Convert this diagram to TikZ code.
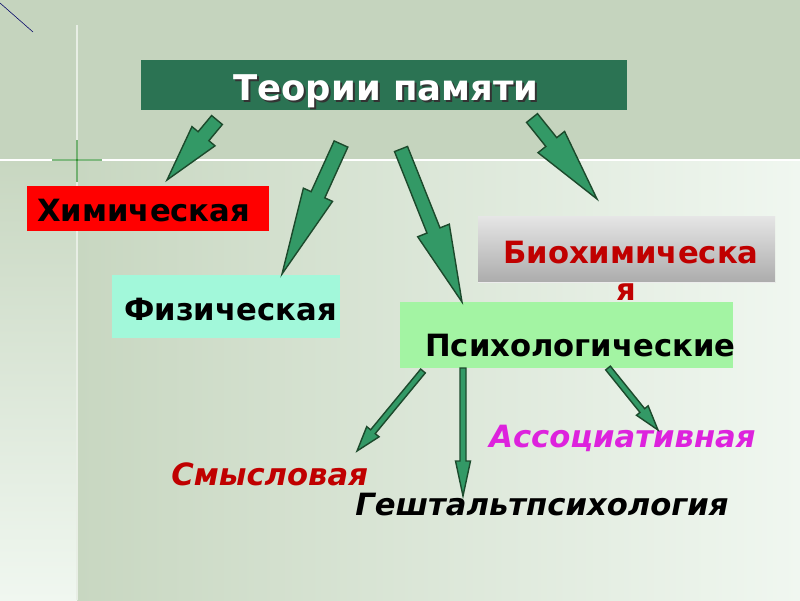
\documentclass[tikz,border=0pt]{standalone}
\usepackage{fontspec}
\setmainfont{DejaVu Sans}
\usetikzlibrary{calc,fit}

\definecolor{bandgreen}{HTML}{C5D4BE}
\definecolor{mainleft}{HTML}{C8D7C1}
\definecolor{mainright}{HTML}{F0F7F0}
\definecolor{titlegreen}{HTML}{2B7353}
\definecolor{arrowgreen}{HTML}{339966}
\definecolor{arrowedge}{HTML}{1C4A2C}
\definecolor{chemred}{HTML}{FF0000}
\definecolor{physaqua}{HTML}{A2F8DA}
\definecolor{psygreen}{HTML}{A3F4A3}
\definecolor{biored}{HTML}{C00000}
\definecolor{assocpink}{HTML}{DD22DD}

% block arrow: start, tip, half shaft, half head, head length (in px)
\newcommand{\fatarrow}[5]{%
  \draw[arrowbody] ($(#1)!{#3*0.7113pt}!90:(#2)$)
    -- ($(#2)!{#5*0.7113pt}!(#1)!{#3*0.7113pt}!-90:(#1)$)
    -- ($(#2)!{#5*0.7113pt}!(#1)!{#4*0.7113pt}!-90:(#1)$)
    -- (#2)
    -- ($(#2)!{#5*0.7113pt}!(#1)!{#4*0.7113pt}!90:(#1)$)
    -- ($(#2)!{#5*0.7113pt}!(#1)!{#3*0.7113pt}!90:(#1)$)
    -- ($(#1)!{#3*0.7113pt}!-90:(#2)$) -- cycle;}

\begin{document}
\begin{tikzpicture}[
  x=0.025cm, y=-0.025cm,
  box/.style={inner sep=0pt, draw=none},
  lbl/.style={inner sep=0pt, anchor=base west, font=\fontsize{21.8}{24}\selectfont\bfseries},
  ilbl/.style={lbl, font=\fontsize{21.8}{24}\selectfont\bfseries\itshape},
  arrowbody/.style={fill=arrowgreen, draw=arrowedge, line width=1pt, line join=miter}
  ]
  \useasboundingbox (0,0) rectangle (800,600);

  % background
  \fill[bandgreen] (0,0) rectangle (800,160);
  \shade[left color=mainleft, right color=mainright] (77,160) rectangle (800,600);
  \shade[top color=mainleft, bottom color=mainright] (0,160) rectangle (77,600);
  \draw[white, line width=1pt] (0,160) -- (800,160);
  \draw[white!60!bandgreen, line width=1pt] (77,25) -- (77,600);
  \draw[green!45!black, opacity=0.5, line width=1.2pt] (52,160) -- (102,160);
  \draw[green!45!black, opacity=0.5, line width=1.2pt] (77,140) -- (77,182);
  \draw[blue!40!black] (0,3) -- (33,32);

  % boxes
  \node[box, fill=titlegreen, fit={(141,60) (627,110)}] (title) {};
  \node[box, fill=chemred, fit={(27,186) (269,231)}] (chem) {};
  \node[box, fill=physaqua, fit={(112,275) (340,338)}] (phys) {};
  \node[box, top color=gray!20, bottom color=gray!65, fit={(478,216) (775,282)}] (biochem) {};
  \draw[white!85!gray, line width=1pt] (biochem.south west) -- (biochem.south east);
  \node[box, fill=psygreen, fit={(400,302) (733,368)}] (psy) {};

  % texts
  \node[lbl, black!80, font=\fontsize{25.2}{28}\selectfont\bfseries] at (235,102) {Теории памяти};
  \node[lbl, white, font=\fontsize{25.2}{28}\selectfont\bfseries] (titletxt) at (233,100) {Теории памяти};
  \node[lbl] (chemtxt) at (37,221) {Химическая};
  \node[lbl] (phystxt) at (124,320) {Физическая};
  \node[lbl, biored] (biotxt) at (503,263) {Биохимическа};
  \node[lbl, biored] (biotxt2) at (616,300) {я};
  \node[lbl] (psytxt) at (425,356) {Психологические};
  \node[ilbl, assocpink] (assoc) at (489,447) {Ассоциативная};
  \node[ilbl, biored] (sense) at (171,485) {Смысловая};
  \node[ilbl] (gestalt) at (355,515) {Гештальтпсихология};

  % arrow ends
  \coordinate (a1) at (217,120);  \coordinate (b1) at (167,180);
  \coordinate (a2) at (341,144);  \coordinate (b2) at (282,274);
  \coordinate (a3) at (401,149);  \coordinate (b3) at (462,302);
  \coordinate (a4) at (532,118);  \coordinate (b4) at (597,199);
  \coordinate (a5) at (423,371);  \coordinate (b5) at (357,451);
  \coordinate (a6) at (463,368);  \coordinate (b6) at (463,496);
  \coordinate (a7) at (608,368);  \coordinate (b7) at (658,430);

  % arrows
  \fatarrow{a1}{b1}{7}{15}{57}
  \fatarrow{a2}{b2}{7.5}{16}{87}
  \fatarrow{a3}{b3}{7}{17}{77}
  \fatarrow{a4}{b4}{7}{17}{73}
  \fatarrow{a5}{b5}{3}{8}{25}
  \fatarrow{a6}{b6}{3}{7.5}{35}
  \fatarrow{a7}{b7}{3}{7.5}{25}
\end{tikzpicture}
\end{document}
